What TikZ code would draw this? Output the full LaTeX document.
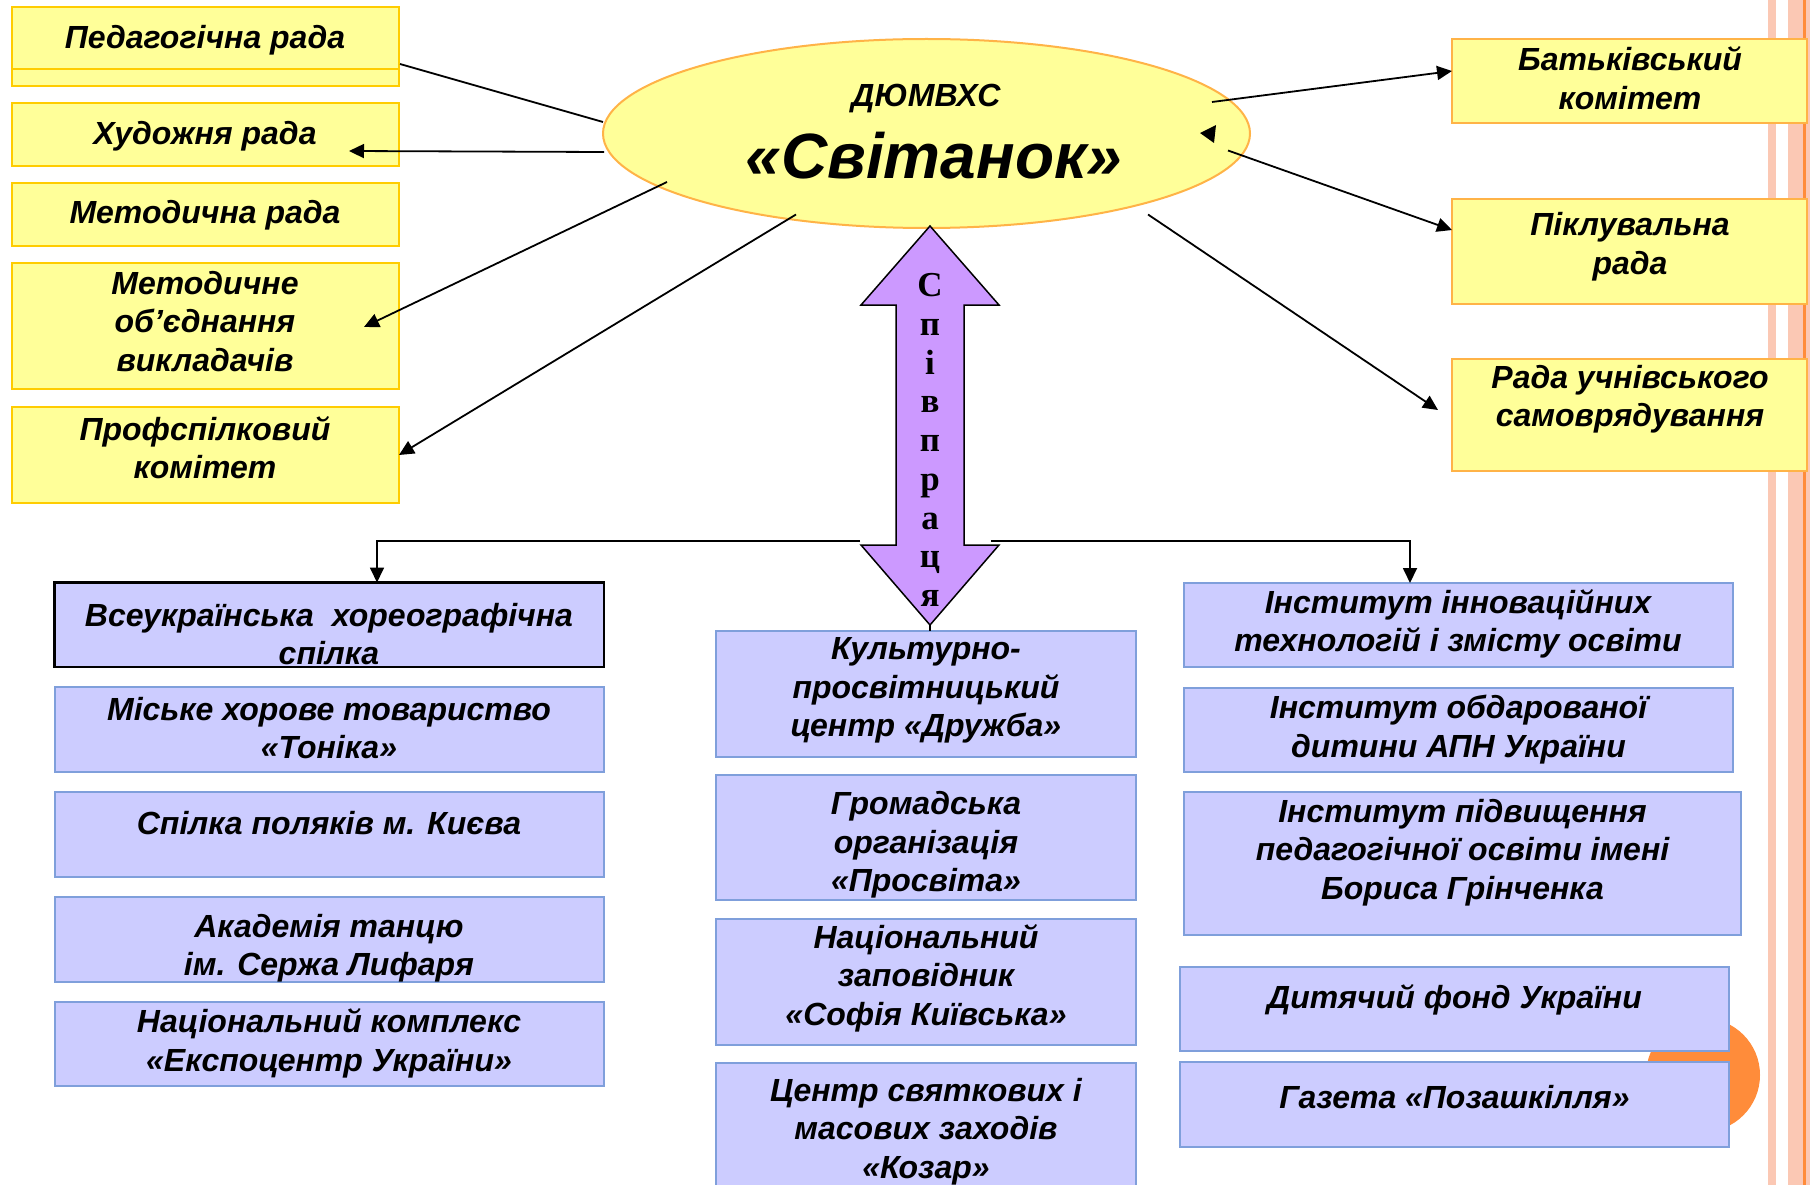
\documentclass[tikz,border=0pt]{standalone}
\usepackage{fontspec}
\setmainfont{Liberation Sans}
\newfontfamily\timesf{Liberation Serif}
\usetikzlibrary{arrows.meta,shapes.geometric}
\definecolor{yfill}{HTML}{FFFF99}
\definecolor{yline}{HTML}{FFCC00}
\definecolor{oline}{HTML}{FFB347}
\definecolor{lfill}{HTML}{CCCCFF}
\definecolor{lline}{HTML}{7F9FDB}
\definecolor{afill}{HTML}{CC99FF}
\definecolor{salmon}{HTML}{FBC8B4}
\definecolor{orng}{HTML}{FF8C3A}
\newcommand\bx[6]{\node[#6, anchor=north west, minimum width={#4pt-#2pt}, minimum height={#5pt-#3pt}] (#1) at (#2,#3) {};}
\tikzset{
 basebox/.style={rectangle, inner sep=0pt, outer sep=0pt},
 ybox/.style={basebox, draw=yline, fill=yfill, line width=2.5pt},
 obox/.style={basebox, draw=oline, fill=yfill, line width=2.5pt},
 lbox/.style={basebox, draw=lline, fill=lfill, line width=2pt},
 kbox/.style={basebox, draw=black, fill=lfill, line width=2.5pt},
 txt/.style={inner sep=0pt, align=center, font=\fontsize{32}{38.5}\selectfont\bfseries\itshape},
 conn/.style={line width=1.8pt, draw=black},
 arr/.style={conn, -{Triangle[length=15pt,width=14pt]}},
}
\begin{document}
\begin{tikzpicture}[x=1pt,y=-1pt]
\clip (0,0) rectangle (1810,1185);
\fill[white] (0,0) rectangle (1810,1185);
% decorative stripes and circle
\fill[salmon] (1768,0) rectangle (1776,1185);
\fill[salmon] (1788,0) rectangle (1810,1185);
\fill[orng] (1803,0) rectangle (1806,1185);
\fill[orng] (1703,1075) circle (57pt);
% left yellow boxes
\bx{ped}{12}{7}{399}{86}{ybox}
\bx{ped2}{12}{7}{399}{69}{ybox}
\bx{hud}{12}{103}{399}{166}{ybox}
\bx{metr}{12}{183}{399}{246}{ybox}
\bx{meto}{12}{263}{399}{389}{ybox}
\bx{prof}{12}{407}{399}{503}{ybox}
% right yellow boxes
\bx{Y1}{1452}{39}{1807}{123}{obox}
\bx{Y2}{1452}{199}{1807}{304}{obox}
\bx{Y3}{1452}{359}{1807}{471}{obox}
% left column
\bx{A}{54.5}{582.5}{604}{667}{kbox}
\bx{B}{54.5}{687}{604}{771.5}{lbox}
\bx{C}{54.5}{792}{604}{877}{lbox}
\bx{D}{54.5}{897}{604}{981.6}{lbox}
\bx{E}{54.5}{1002}{604}{1086}{lbox}
% middle column
\bx{M1}{716}{631}{1136}{757}{lbox}
\bx{M2}{716}{775}{1136}{900}{lbox}
\bx{M3}{716}{919}{1136}{1045}{lbox}
\bx{M4}{716}{1063}{1136}{1210}{lbox}
% right column
\bx{R1}{1184}{583}{1732.5}{667}{lbox}
\bx{R2}{1184}{688}{1733}{772}{lbox}
\bx{R3}{1184}{792}{1741}{935}{lbox}
\bx{R4}{1180}{967}{1729}{1051}{lbox}
\bx{R5}{1180}{1062}{1729}{1147}{lbox}
% central ellipse
\node[ellipse, draw=oline, fill=yfill, line width=2pt, inner sep=0pt, minimum width=647pt, minimum height=189pt] (ell) at (926.5,133.5) {};
\node[inner sep=0pt, font=\fontsize{32}{34}\selectfont\bfseries\itshape] (t0) at (926,99) {ДЮМВХС};
\node[inner sep=0pt, font=\fontsize{64}{70}\selectfont\bfseries\itshape] (t00) at (934,155.5) {«Світанок»};
% texts
\node[txt] (tped) at (205,40.5) {Педагогічна рада};
\node[txt] (thud) at (205,136.5) {Художня рада};
\node[txt] (tmetr) at (205,215.5) {Методична рада};
\node[txt] (tmeto) at (205,321.5) {Методичне\\об’єднання\\викладачів};
\node[txt] (tprof) at (205,447.5) {Профспілковий\\комітет};
\node[txt] (tY1) at (1630,78) {Батьківський\\комітет};
\node[txt] (tY2) at (1630,246.5) {Піклувальна\\рада};
\node[txt] (tY3) at (1630,399) {Рада учнівського\\самоврядування};
\node[txt] (tA) at (329,634) {Всеукраїнська\ \ хореографічна\\спілка};
\node[txt] (tB) at (329,728) {Міське хорове товариство\\«Тоніка»};
\node[txt] (tC) at (329,823.5) {Спілка поляків м. Києва};
\node[txt] (tD) at (329,948) {Академія танцю\\ім. Сержа Лифаря};
\node[txt] (tE) at (329,1043.5) {Національний комплекс\\«Експоцентр України»};
\node[txt] (tM1) at (926,690.5) {Культурно-\\просвітницький\\центр «Дружба»};
\node[txt] (tM2) at (926,845) {Громадська\\організація\\«Просвіта»};
\node[txt] (tM3) at (926,978) {Національний\\заповідник\\«Софія Київська»};
\node[txt] (tM4) at (926,1131.5) {Центр святкових і\\масових заходів\\«Козар»};
\node[txt] (tR1) at (1458,624) {Інститут інноваційних\\технологій і змісту освіти};
\node[txt] (tR2) at (1458.5,729.5) {Інститут обдарованої\\дитини АПН України};
\node[txt] (tR3) at (1462.5,852.5) {Інститут підвищення\\педагогічної освіти імені\\Бориса Грінченка};
\node[txt] (tR4) at (1454.5,1000) {Дитячий фонд України};
\node[txt] (tR5) at (1454.5,1097) {Газета «Позашкілля»};
% double arrow "Співпраця"
\coordinate (aT) at (930,226);
\coordinate (aB) at (930,625);
\filldraw[fill=afill, draw=black, line width=1.5pt, line join=miter] (aT) -- (999,305) -- (964,305) -- (964,545) -- (999,545) -- (aB) -- (861,545) -- (896,545) -- (896,305) -- (861,305) -- cycle;
\node[inner sep=0pt, align=center, font=\timesf\bfseries\fontsize{35}{38.75}\selectfont] (spiv) at (930,440) {С\\п\\і\\в\\п\\р\\а\\ц\\я};
% connectors from the ellipse
\coordinate (eped) at (603,122);
\coordinate (pedE) at (400,64);
\coordinate (ehud) at (604,152);
\coordinate (hudT) at (349,151);
\coordinate (emeto) at (667,182);
\coordinate (metoT) at (364,327);
\coordinate (eprof) at (796,214.5);
\coordinate (eY1) at (1212,102);
\coordinate (Y1T) at (1452,71);
\coordinate (eY2) at (1228,150.5);
\coordinate (Y2T) at (1452,230);
\coordinate (eY3) at (1148,214.5);
\coordinate (Y3T) at (1438,410);
\draw[conn] (eped) -- (pedE);
\draw[arr] (ehud) -- (hudT);
\draw[arr] (emeto) -- (metoT);
\draw[arr] (eprof) -- (prof.east);
\draw[arr] (eY1) -- (Y1T);
\draw[arr] (eY2) -- (Y2T);
\draw[arr] (eY3) -- (Y3T);
\fill (1200,133) -- (1216,125) -- (1214,143) -- cycle;
% connectors from the double arrow
\coordinate (aL) at (860,541);
\coordinate (aR) at (991,541);
\coordinate (kL) at (377,541);
\coordinate (kR) at (1410,541);
\draw[arr] (aL) -- (kL) -- (kL |- A.north);
\draw[arr] (aR) -- (kR) -- (kR |- R1.north);
\draw[conn] (aB) -- (aB |- M1.north);
\end{tikzpicture}
\end{document}
